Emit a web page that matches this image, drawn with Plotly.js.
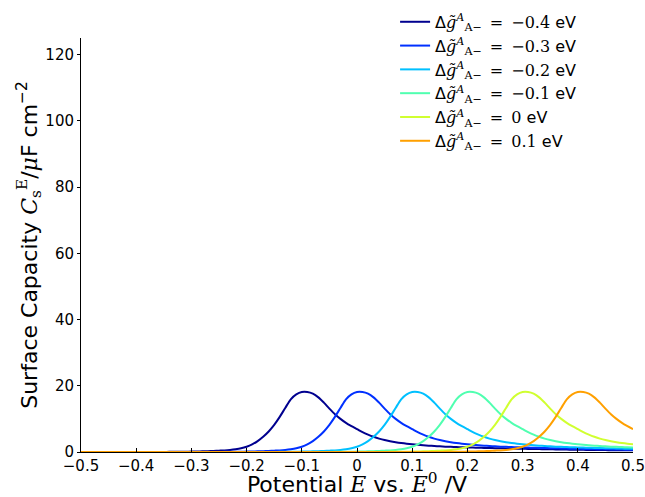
<!DOCTYPE html>
<html>
<head>
<meta charset="utf-8">
<script src="https://cdn.plot.ly/plotly-3.0.1.min.js"></script>
<style>html,body{margin:0;padding:0;background:#fff;}#chart{width:645px;height:497px;}</style>
</head>
<body>
<div id="chart"></div>
<script>
// Potential grid E vs. E0 (V)
var potential = [
 -0.50,-0.49,-0.48,-0.47,-0.46,-0.45,-0.44,-0.43,-0.42,-0.41,
 -0.40,-0.39,-0.38,-0.37,-0.36,-0.35,-0.34,-0.33,-0.32,-0.31,
 -0.30,-0.29,-0.28,-0.27,-0.26,-0.25,-0.24,-0.23,-0.22,-0.21,
 -0.20,-0.19,-0.18,-0.17,-0.16,-0.15,-0.14,-0.13,-0.12,-0.11,
 -0.10,-0.09,-0.08,-0.07,-0.06,-0.05,-0.04,-0.03,-0.02,-0.01,
 0.00,0.01,0.02,0.03,0.04,0.05,0.06,0.07,0.08,0.09,
 0.10,0.11,0.12,0.13,0.14,0.15,0.16,0.17,0.18,0.19,
 0.20,0.21,0.22,0.23,0.24,0.25,0.26,0.27,0.28,0.29,
 0.30,0.31,0.32,0.33,0.34,0.35,0.36,0.37,0.38,0.39,
 0.40,0.41,0.42,0.43,0.44,0.45,0.46,0.47,0.48,0.49,
 0.50
];

// Surface capacity (uF cm^-2) for each series
var capM04 = [
 0,0,0,0,0,0,0,0,0,0,
 0.01,0.01,0.01,0.02,0.02,0.03,0.04,0.05,0.07,0.09,
 0.12,0.15,0.2,0.26,0.33,0.4,0.48,0.62,0.82,1.12,
 1.6,2.3,3.3,4.6,6.2,8.2,10.6,13.3,15.9,17.4,
 18.1,18.1,17.6,16.5,14.9,13.1,11.4,10.0,8.8,7.8,
 6.9,6.0,5.25,4.6,4.05,3.6,3.25,2.95,2.7,2.5,
 2.35,2.2,2.05,1.92,1.8,1.7,1.62,1.55,1.49,1.43,
 1.37,1.33,1.28,1.24,1.2,1.16,1.12,1.08,1.04,1.0,
 0.97,0.94,0.91,0.88,0.85,0.82,0.79,0.76,0.73,0.7,
 0.67,0.65,0.63,0.61,0.59,0.57,0.56,0.54,0.53,0.51,
 0.5
];
var capM03 = [
 0,0,0,0,0,0,0,0,0,0,
 0,0,0,0,0,0,0,0,0,0,
 0.01,0.01,0.01,0.02,0.02,0.03,0.04,0.05,0.07,0.09,
 0.12,0.15,0.2,0.26,0.33,0.4,0.48,0.62,0.82,1.12,
 1.6,2.3,3.3,4.6,6.2,8.2,10.6,13.3,15.9,17.4,
 18.1,18.1,17.6,16.5,14.9,13.1,11.4,10.0,8.8,7.8,
 6.9,6.0,5.25,4.6,4.05,3.6,3.25,2.95,2.7,2.5,
 2.35,2.2,2.05,1.92,1.8,1.7,1.62,1.55,1.49,1.43,
 1.37,1.33,1.28,1.24,1.2,1.16,1.12,1.08,1.04,1.0,
 0.97,0.94,0.91,0.88,0.85,0.82,0.79,0.76,0.73,0.7,
 0.67
];
var capM02 = [
 0,0,0,0,0,0,0,0,0,0,
 0,0,0,0,0,0,0,0,0,0,
 0,0,0,0,0,0,0,0,0,0,
 0.01,0.01,0.01,0.02,0.02,0.03,0.04,0.05,0.07,0.09,
 0.12,0.15,0.2,0.26,0.33,0.4,0.48,0.62,0.82,1.12,
 1.6,2.3,3.3,4.6,6.2,8.2,10.6,13.3,15.9,17.4,
 18.1,18.1,17.6,16.5,14.9,13.1,11.4,10.0,8.8,7.8,
 6.9,6.0,5.25,4.6,4.05,3.6,3.25,2.95,2.7,2.5,
 2.35,2.2,2.05,1.92,1.8,1.7,1.62,1.55,1.49,1.43,
 1.37,1.33,1.28,1.24,1.2,1.16,1.12,1.08,1.04,1.0,
 0.97
];
var capM01 = [
 0,0,0,0,0,0,0,0,0,0,
 0,0,0,0,0,0,0,0,0,0,
 0,0,0,0,0,0,0,0,0,0,
 0,0,0,0,0,0,0,0,0,0,
 0.01,0.01,0.01,0.02,0.02,0.03,0.04,0.05,0.07,0.09,
 0.12,0.15,0.2,0.26,0.33,0.4,0.48,0.62,0.82,1.12,
 1.6,2.3,3.3,4.6,6.2,8.2,10.6,13.3,15.9,17.4,
 18.1,18.1,17.6,16.5,14.9,13.1,11.4,10.0,8.8,7.8,
 6.9,6.0,5.25,4.6,4.05,3.6,3.25,2.95,2.7,2.5,
 2.35,2.2,2.05,1.92,1.8,1.7,1.62,1.55,1.49,1.43,
 1.37
];
var capP00 = [
 0,0,0,0,0,0,0,0,0,0,
 0,0,0,0,0,0,0,0,0,0,
 0,0,0,0,0,0,0,0,0,0,
 0,0,0,0,0,0,0,0,0,0,
 0,0,0,0,0,0,0,0,0,0,
 0.01,0.01,0.01,0.02,0.02,0.03,0.04,0.05,0.07,0.09,
 0.12,0.15,0.2,0.26,0.33,0.4,0.48,0.62,0.82,1.12,
 1.6,2.3,3.3,4.6,6.2,8.2,10.6,13.3,15.9,17.4,
 18.1,18.1,17.6,16.5,14.9,13.1,11.4,10.0,8.8,7.8,
 6.9,6.0,5.25,4.6,4.05,3.6,3.25,2.95,2.7,2.5,
 2.35
];
var capP01 = [
 0,0,0,0,0,0,0,0,0,0,
 0,0,0,0,0,0,0,0,0,0,
 0,0,0,0,0,0,0,0,0,0,
 0,0,0,0,0,0,0,0,0,0,
 0,0,0,0,0,0,0,0,0,0,
 0,0,0,0,0,0,0,0,0,0,
 0.01,0.01,0.01,0.02,0.02,0.03,0.04,0.05,0.07,0.09,
 0.12,0.15,0.2,0.26,0.33,0.4,0.48,0.62,0.82,1.12,
 1.6,2.3,3.3,4.6,6.2,8.2,10.6,13.3,15.9,17.4,
 18.1,18.1,17.6,16.5,14.9,13.1,11.4,10.0,8.8,7.8,
 6.9
];

var seriesValues = [capM04, capM03, capM02, capM01, capP00, capP01];
var seriesLabels = ["\u22120.4", "\u22120.3", "\u22120.2", "\u22120.1", "0", "0.1"];
var seriesColors = ["#00008f", "#0030ff", "#00c0ff", "#50ffb0", "#d0ff30", "#ffa000"];

var xTickVals = [-0.5,-0.4,-0.3,-0.2,-0.1,0,0.1,0.2,0.3,0.4,0.5];
var yTickVals = [0,20,40,60,80,100,120];

var serif = "'DejaVu Serif','Liberation Serif',serif";
function legendName(v) {
  return "\u0394<span style=\"font-family:" + serif + "\"><i>g\u0303</i></span>" +
         "<sup><span style=\"font-family:" + serif + "\"><i>A</i></span></sup>" +
         "<sub><span style=\"font-family:" + serif + "\">A\u2212</span></sub>" +
         "<span style=\"font-family:" + serif + "\">\u2002=\u2002" + v + "</span> eV";
}

var traces = seriesValues.map(function (vals, i) {
  return {
    type: "scatter",
    mode: "lines",
    x: potential,
    y: vals,
    name: legendName(seriesLabels[i]),
    line: {color: seriesColors[i], width: 2, shape: "spline", smoothing: 0.8},
    hoverinfo: "skip"
  };
});

var layout = {
  width: 645,
  height: 497,
  margin: {l: 81, r: 12, t: 38, b: 45, autoexpand: false},
  paper_bgcolor: "#fff",
  plot_bgcolor: "#fff",
  font: {family: "'DejaVu Sans', sans-serif", size: 14, color: "#000"},
  showlegend: true,
  legend: {
    x: 0.569, y: 1.080, xanchor: "left", yanchor: "top",
    bgcolor: "rgba(0,0,0,0)",
    font: {size: 16, color: "#000"},
    tracegroupgap: 0,
    itemwidth: 30
  },
  xaxis: {
    range: [-0.5, 0.5],
    tickvals: xTickVals,
    ticks: "inside",
    ticklen: 4,
    tickcolor: "#000",
    showline: true,
    linecolor: "#000",
    linewidth: 1,
    showgrid: false,
    zeroline: false,
    tickfont: {size: 15},
    automargin: false,
    title: {
      text: "Potential <span style=\"font-family:" + serif + "\"><i>E</i></span> vs. <span style=\"font-family:" + serif + "\"><i>E</i><sup>0</sup></span> /V",
      font: {size: 22},
      standoff: 4
    }
  },
  yaxis: {
    range: [0, 125],
    tickvals: yTickVals,
    ticks: "outside",
    ticklen: 3,
    tickcolor: "#000",
    showline: true,
    linecolor: "#000",
    linewidth: 1,
    showgrid: false,
    zeroline: false,
    tickfont: {size: 15},
    automargin: false,
    title: {
      text: "Surface Capacity <span style=\"font-family:" + serif + "\"><i>C</i><sub>s</sub><sup>E</sup></span>/<span style=\"font-family:" + serif + "\"><i>\u03bc</i></span>F cm<sup>\u22122</sup>",
      font: {size: 22},
      standoff: 0
    }
  }
};

Plotly.newPlot("chart", traces, layout, {displayModeBar: false, staticPlot: true});
</script>
</body>
</html>
